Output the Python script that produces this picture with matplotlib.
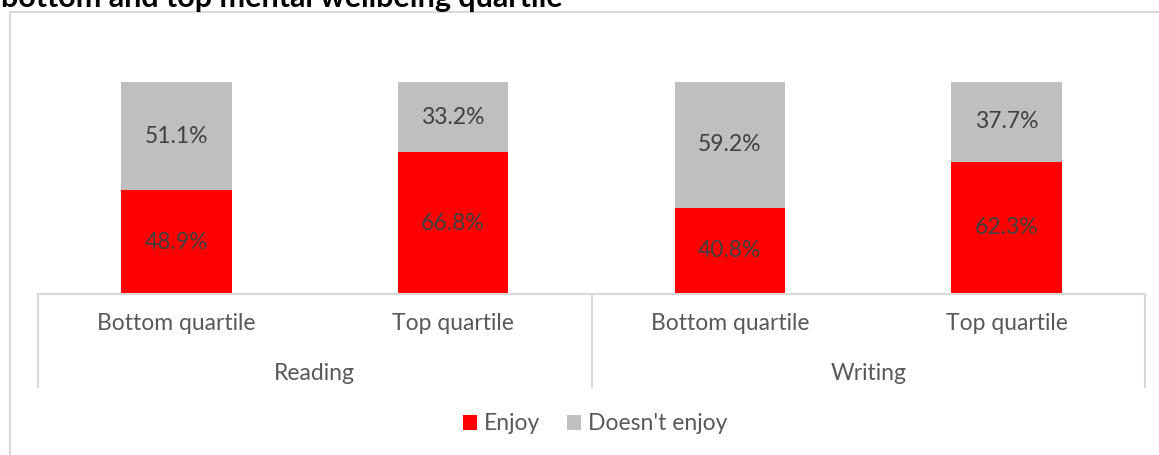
import matplotlib
matplotlib.use("Agg")
import matplotlib.pyplot as plt
from matplotlib.lines import Line2D
from matplotlib.patches import Patch
from matplotlib.transforms import blended_transform_factory

plt.rcParams["font.family"] = ["Lato", "DejaVu Sans"]

# Data
groups = ["Reading", "Writing"]
categories = ["Bottom quartile", "Top quartile", "Bottom quartile", "Top quartile"]
enjoy = [48.9, 66.8, 40.8, 62.3]
not_enjoy = [51.1, 33.2, 59.2, 37.7]
series_names = ["Enjoy", "Doesn't enjoy"]
title = "bottom and top mental wellbeing quartile"

RED = "#FF0000"
GREY = "#BFBFBF"
TEXT = "#595959"
LABEL = "#404040"
RULE = "#D9D9D9"

W, H = 1159, 455
fig = plt.figure(figsize=(W / 100, H / 100), dpi=100)

# Plot area in pixel terms
left, right, top, bottom = 38, 1145, 82, 294
ax = fig.add_axes([left / W, 1 - bottom / H, (right - left) / W, (bottom - top) / H])

x = list(range(len(categories)))
bw = 0.4
ax.bar(x, enjoy, width=bw, color=RED, zorder=2)
ax.bar(x, not_enjoy, width=bw, bottom=enjoy, color=GREY, zorder=2)

for xi, e, n in zip(x, enjoy, not_enjoy):
    ax.text(xi, e / 2, f"{e:.1f}%", ha="center", va="center", fontsize=16.5, color=LABEL)
    ax.text(xi, e + n / 2, f"{n:.1f}%", ha="center", va="center", fontsize=16.5, color=LABEL)

ax.set_xlim(-0.5, len(categories) - 0.5)
ax.set_ylim(0, 100)
ax.set_yticks([])
for s in ["top", "right", "left"]:
    ax.spines[s].set_visible(False)
ax.spines["bottom"].set_color(RULE)
ax.spines["bottom"].set_linewidth(1.5)

ax.set_xticks(x)
ax.set_xticklabels(categories, fontsize=16.5, color=TEXT)
ax.tick_params(axis="x", length=0, pad=14)

# Group labels and separators of the two-level category axis
tr = blended_transform_factory(ax.transData, ax.transAxes)
ph = bottom - top
n_per = len(categories) // len(groups)
for gi, g in enumerate(groups):
    cx = gi * n_per + (n_per - 1) / 2
    ax.text(cx, -79 / ph, g, transform=tr, ha="center", va="center", fontsize=16.5, color=TEXT)
for sx in [-0.5 + i * n_per for i in range(len(groups) + 1)]:
    ax.add_line(Line2D([sx, sx], [0, -93 / ph], transform=tr, color=RULE, lw=1.5, clip_on=False))

# Chart frame (left and top edges)
fig.add_artist(Line2D([10 / W, 10 / W], [0, 1 - 11.5 / H], transform=fig.transFigure, color=RULE, lw=1.5))
fig.add_artist(Line2D([10 / W, 1], [1 - 11.5 / H, 1 - 11.5 / H], transform=fig.transFigure, color=RULE, lw=1.5))

# Title (runs off the top edge of the canvas)
fig.text(1 / W, 1 - 6.5 / H, title, ha="left", va="baseline", fontsize=22, fontweight="bold", color="black")

handles = [Patch(facecolor=RED), Patch(facecolor=GREY)]
fig.legend(handles, series_names, loc="center", bbox_to_anchor=(595 / W, 1 - 424 / H), ncol=2,
           frameon=False, fontsize=16.5, labelcolor=TEXT, handlelength=0.6, handleheight=0.6,
           handletextpad=0.3, columnspacing=1.2, borderpad=0, borderaxespad=0)

fig.savefig("out.png", dpi=100)
